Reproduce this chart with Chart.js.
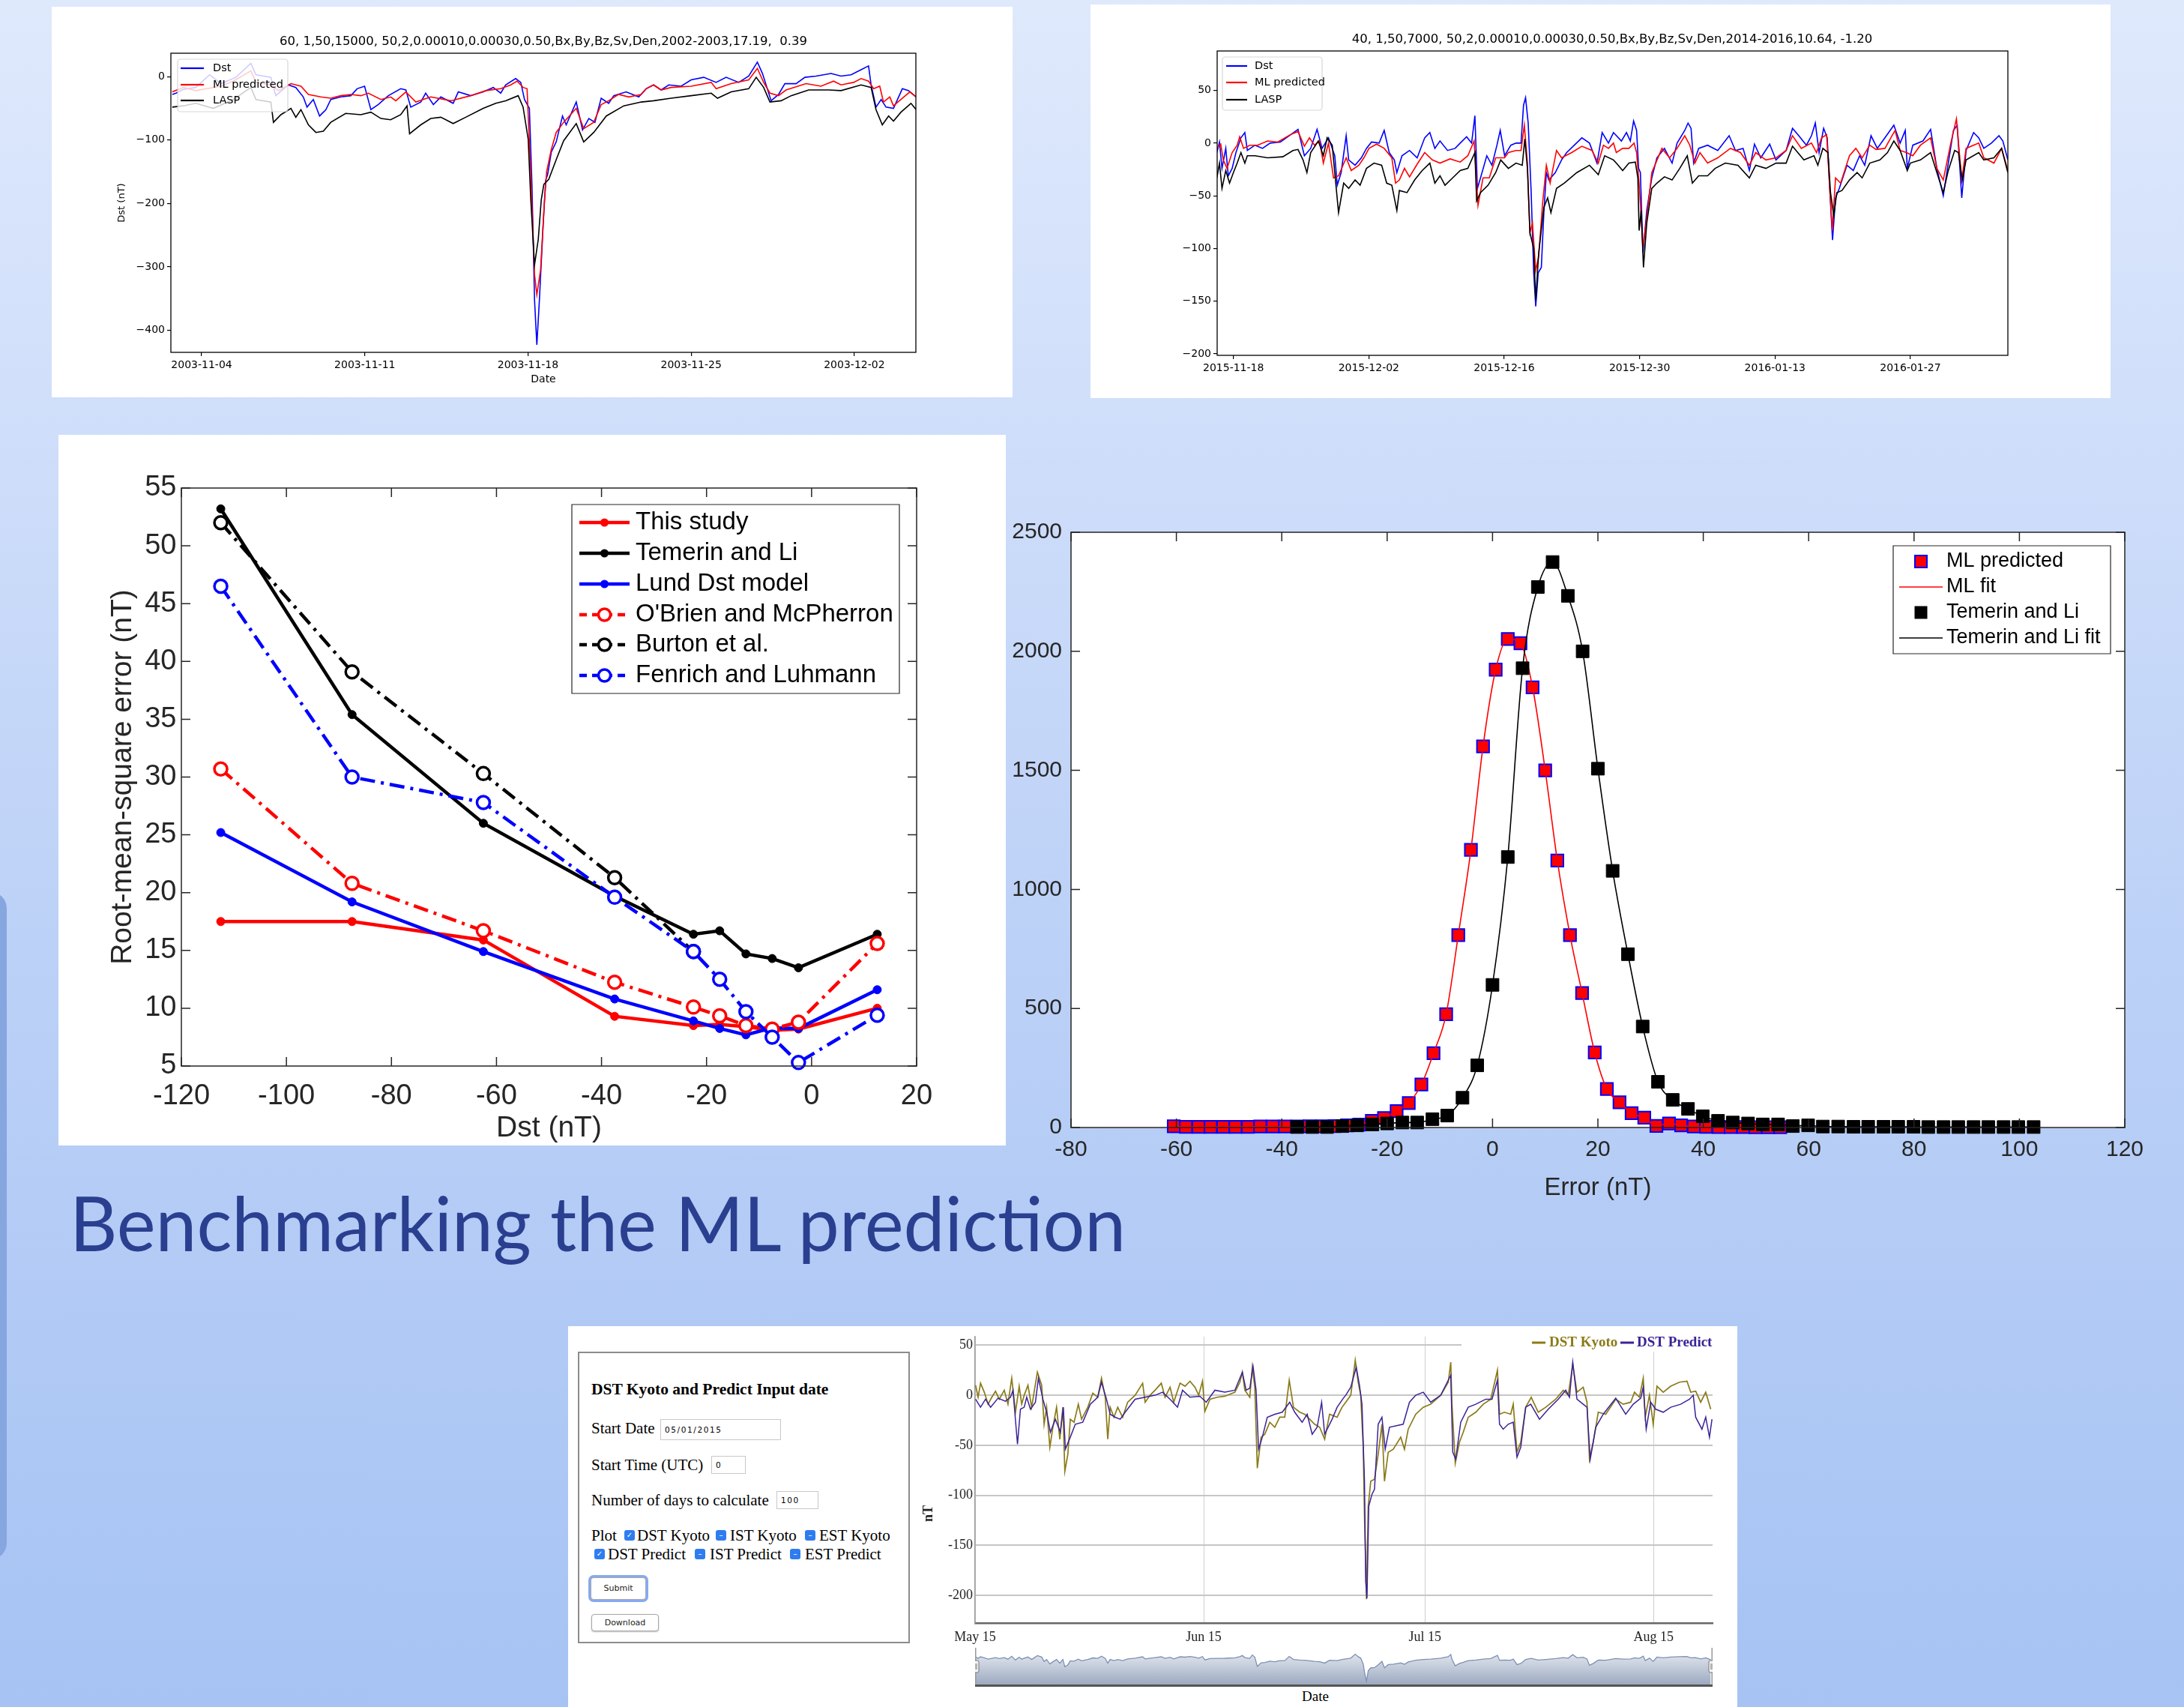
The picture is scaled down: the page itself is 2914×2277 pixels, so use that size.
<!DOCTYPE html>
<html>
<head>
<meta charset="utf-8">
<script src="https://cdn.jsdelivr.net/npm/chart.js@4.4.1/dist/chart.umd.min.js"></script>
<style>
html, body { margin: 0; padding: 0; }
body { width: 2914px; height: 2277px; position: relative; overflow: hidden;
  background: linear-gradient(#dfe9fc, #bcd1f7 55%, #a6c3f3); font-family: "Liberation Sans", Arial, sans-serif; }
.panel { position: absolute; background: #fff; }
canvas { position: absolute; }
#slideTitle { position: absolute; left: 93px; top: 1580px; font-family: Lato, "Open Sans", sans-serif; font-size: 100px;
  line-height: 1; color: #2a3f8f; white-space: nowrap; transform-origin: 0 0; }
#edge { position: absolute; left: -34px; top: 1190px; width: 43px; height: 890px; border-radius: 34px; background: #86a6e0; }
#form { position: absolute; left: 771px; top: 1803px; width: 439px; height: 385px; border: 2px solid #8c8c8c;
  background: #fff; font-family: "Liberation Serif", serif; color: #000; }
#form .t { position: absolute; white-space: nowrap; font-size: 21px; line-height: 24px; }
#form .inp { position: absolute; border: 1px solid #c8c8c8; background: #fff; font-family: "DejaVu Sans", sans-serif;
  font-size: 10.5px; padding-left: 5px; box-sizing: border-box; letter-spacing: 1.6px; }
.cb { position: absolute; width: 14px; height: 14px; border-radius: 3px; background: #2f7cf0; color: #fff;
  font-family: "DejaVu Sans", sans-serif; font-size: 10px; line-height: 14px; text-align: center; }
.btn { position: absolute; background: #fff; border: 1px solid #a8a8a8; border-radius: 4px; font-family: "DejaVu Sans", sans-serif;
  font-size: 11px; text-align: center; box-sizing: border-box; color: #222; }
#dateLbl { position: absolute; left: 1725px; top: 2252px; width: 60px; text-align: center; font-family: "Liberation Serif", serif;
  font-size: 19px; line-height: 22px; }
</style>
</head>
<body>
<div id="edge"></div>

<div class="panel" style="left:69px;top:9px;width:1282px;height:521px"></div>
<canvas id="cA" width="1282" height="521" style="left:69px;top:9px"></canvas>

<div class="panel" style="left:1455px;top:6px;width:1361px;height:525px"></div>
<canvas id="cB" width="1361" height="525" style="left:1455px;top:6px"></canvas>

<div class="panel" style="left:78px;top:580px;width:1264px;height:948px"></div>
<canvas id="cC" width="1264" height="948" style="left:78px;top:580px"></canvas>

<canvas id="cD" width="1576" height="960" style="left:1338px;top:680px"></canvas>

<div id="slideTitle">Benchmarking the ML prediction</div>

<div class="panel" style="left:758px;top:1769px;width:1560px;height:508px"></div>
<div id="form">
  <div class="t" style="left:16px;top:36px;font-weight:bold;font-size:21.5px">DST Kyoto and Predict Input date</div>
  <div class="t" style="left:16px;top:88px">Start Date</div>
  <div class="inp" style="left:108px;top:88px;width:161px;height:28px;line-height:26px">05/01/2015</div>
  <div class="t" style="left:16px;top:137px">Start Time (UTC)</div>
  <div class="inp" style="left:176px;top:137px;width:46px;height:24px;line-height:22px">0</div>
  <div class="t" style="left:16px;top:184px">Number of days to calculate</div>
  <div class="inp" style="left:263px;top:184px;width:56px;height:24px;line-height:22px">100</div>
  <div class="t" style="left:16px;top:231px">Plot</div>
  <span class="cb" style="left:60px;top:236px">✓</span><div class="t" style="left:77px;top:231px">DST Kyoto</div>
  <span class="cb" style="left:182px;top:236px">–</span><div class="t" style="left:201px;top:231px">IST Kyoto</div>
  <span class="cb" style="left:301px;top:236px">–</span><div class="t" style="left:320px;top:231px">EST Kyoto</div>
  <span class="cb" style="left:20px;top:261px">✓</span><div class="t" style="left:38px;top:256px">DST Predict</div>
  <span class="cb" style="left:154px;top:261px">–</span><div class="t" style="left:174px;top:256px">IST Predict</div>
  <span class="cb" style="left:281px;top:261px">–</span><div class="t" style="left:301px;top:256px">EST Predict</div>
  <div class="btn" style="left:15px;top:299px;width:74px;height:30px;line-height:28px;box-shadow:0 0 0 3px #86aaf0">Submit</div>
  <div class="btn" style="left:16px;top:348px;width:90px;height:23px;line-height:21px;box-shadow:0 1px 2px #bbb">Download</div>
</div>
<canvas id="cE" width="1100" height="440" style="left:1215px;top:1769px"></canvas>
<canvas id="cN" width="984" height="52" style="left:1301px;top:2198px"></canvas>
<div id="dateLbl">Date</div>

<script>
// ---------- Dst storm Nov 2003 (days from 2003-11-04) ----------
const tick1Days = [0, 7, 14, 21, 28];
const tick1Labels = ['2003-11-04', '2003-11-11', '2003-11-18', '2003-11-25', '2003-12-02'];
const y1Ticks = [-400, -300, -200, -100, 0];
const dst1T = [-1.26,-1.10,-0.78,-0.25,0.34,0.83,1.47,2.11,2.33,2.97,3.18,3.72,4.04,4.36,4.52,4.79,5.06,5.33,5.54,5.97,6.40,6.67,6.99,7.26,7.58,8.01,8.54,8.76,8.97,9.40,9.61,9.94,10.26,10.79,11.01,11.54,12.08,12.51,12.83,13.04,13.47,13.69,13.85,14.06,14.17,14.28,14.38,14.49,14.65,14.76,14.84,15.00,15.21,15.48,15.64,16.07,16.34,16.61,16.87,17.14,17.46,17.68,18.21,18.75,19.07,19.39,19.71,20.04,20.57,21.00,21.54,22.07,22.50,23.04,23.47,23.84,24.06,24.43,24.75,25.02,25.50,25.88,26.36,27.00,27.43,27.86,28.29,28.61,28.72,28.93,29.15,29.36,29.68,30.06,30.33,30.65];
const dst1V = [-28,-26,-20,-17,3,-11,-1,21,3,-1,-30,-13,-17,-32,-48,-36,-62,-52,-36,-32,-30,-19,-15,-52,-44,-30,-19,-21,-48,-40,-26,-44,-32,-42,-24,-30,-24,-17,-26,-13,-3,-9,-36,-50,-170,-352,-423,-352,-234,-163,-155,-119,-103,-62,-76,-40,-84,-66,-72,-34,-42,-30,-24,-32,-19,-13,-21,-13,-15,-5,-1,-9,-1,-9,1,23,5,-38,-28,-11,-11,-1,1,5,1,3,11,17,-13,-48,-36,-48,-50,-19,-22,-32];
const ml1T = [-1.26,-0.78,-0.25,0.83,1.36,2.11,2.33,2.97,3.29,3.83,4.26,4.58,5.11,5.54,5.97,6.40,6.83,7.15,7.69,8.11,8.33,8.76,9.19,9.83,10.69,11.54,12.19,12.83,13.26,13.53,13.79,13.96,14.12,14.28,14.38,14.54,14.70,14.80,15.00,15.21,15.53,16.07,16.39,16.82,17.14,17.46,17.89,18.32,18.86,19.07,19.39,19.71,20.14,21.00,21.86,22.07,22.72,23.47,23.84,24.11,24.38,24.75,25.07,25.93,26.57,27.11,27.43,27.97,28.29,28.61,28.83,29.09,29.25,29.52,29.68,30.00,30.38,30.65];
const ml1V = [-24,-17,-22,-15,-7,9,-9,-13,-22,-11,-15,-28,-32,-34,-30,-28,-30,-26,-36,-32,-38,-24,-40,-32,-38,-30,-22,-19,-13,-7,-17,-19,-155,-312,-344,-305,-200,-150,-115,-88,-72,-50,-82,-72,-44,-38,-28,-32,-28,-19,-13,-21,-17,-15,-9,-19,-11,-5,13,-9,-26,-30,-21,-11,-15,-7,-13,-9,-3,-7,-19,-15,-40,-32,-46,-36,-24,-32];
const lasp1T = [-1.26,-0.78,-0.25,0.50,1.36,2.11,2.33,2.97,3.08,3.40,3.83,4.04,4.26,4.58,4.90,5.22,5.54,6.18,6.83,7.26,7.69,8.11,8.54,8.81,8.92,9.40,9.83,10.26,10.79,11.33,12.08,12.62,13.04,13.58,13.79,14.01,14.12,14.28,14.44,14.57,14.68,14.89,15.21,15.53,16.07,16.39,16.82,17.36,18.11,18.86,19.39,20.14,21.00,21.86,22.13,22.72,23.47,23.79,24.11,24.38,24.86,25.29,26.04,26.90,27.43,28.29,28.72,28.93,29.20,29.47,29.68,30.00,30.43,30.65];
const lasp1V = [-48,-46,-42,-50,-36,-17,-36,-40,-72,-60,-50,-64,-52,-76,-88,-86,-72,-58,-60,-56,-66,-68,-60,-46,-90,-76,-66,-64,-74,-64,-50,-42,-38,-30,-48,-99,-194,-297,-257,-194,-170,-162,-131,-101,-74,-103,-88,-62,-46,-40,-38,-34,-30,-26,-34,-24,-19,-1,-17,-40,-38,-30,-21,-21,-22,-13,-17,-52,-76,-62,-70,-56,-42,-52];

// ---------- Dst Nov 2015 - Feb 2016 (days from 2015-11-18) ----------
const tick2Days = [0, 14, 28, 42, 56, 70];
const tick2Labels = ['2015-11-18', '2015-12-02', '2015-12-16', '2015-12-30', '2016-01-13', '2016-01-27'];
const y2Ticks = [-200, -150, -100, -50, 0, 50];
const dst2T = [-1.71,-1.44,-1.18,-0.79,-0.53,-0.13,0.26,0.78,1.18,1.44,2.23,3.01,3.80,4.85,5.63,6.68,7.34,7.99,8.65,9.17,9.83,10.48,10.74,11.14,11.66,11.92,12.58,13.23,13.76,14.28,15.07,15.59,16.11,16.64,16.90,17.43,18.21,19.00,19.78,20.31,20.83,21.36,22.14,22.93,23.45,24.11,24.63,24.97,25.23,25.55,26.20,26.73,27.25,27.59,28.04,28.69,29.22,29.74,30.00,30.21,30.48,30.79,31.05,31.26,31.52,31.84,32.10,32.36,32.62,33.28,33.93,34.46,35.25,36.03,36.82,37.60,38.13,38.78,39.30,
  40.12,40.64,41.04,41.38,41.69,41.90,42.08,42.35,42.74,43.26,43.79,44.57,45.36,45.88,46.67,47.01,47.32,47.59,48.11,49.03,50.08,51.26,51.91,52.70,53.35,53.88,54.53,55.45,56.10,57.15,57.81,58.46,59.25,59.77,60.17,60.56,61.03,61.40,61.66,61.95,62.26,62.65,63.44,64.10,64.75,65.28,65.93,66.58,67.37,68.29,68.94,69.47,69.68,70.25,71.30,72.09,72.74,73.40,73.92,74.45,74.84,75.31,75.76,76.54,77.07,77.59,78.38,79.16,79.56,80.08];
const dst2V = [-9,1,-24,-5,-31,-24,-9,5,10,-7,-2,-5,0,1,6,13,-12,-5,13,-5,5,-12,-40,-28,7,-16,-21,-14,-5,1,0,12,-9,-16,-28,-12,-7,-14,5,10,-5,2,-7,-5,0,6,0,26,-43,-33,-12,-21,-2,12,-12,-2,0,0,36,43,19,-47,-123,-155,-123,-118,-66,-28,-35,-28,-16,-9,-2,5,0,-19,10,0,10,
  2,10,2,21,12,-24,-28,-104,-64,-33,-14,-5,-19,0,12,19,14,-19,-5,-2,-7,7,-7,-5,-26,-1,-14,-1,-16,-7,14,7,-2,7,19,-9,14,5,-43,-92,-52,-43,-21,-26,-12,-21,7,-5,5,17,0,12,-24,-2,2,13,-24,-50,-19,12,17,-52,-7,10,5,-5,0,7,2,-16];
const ml2T = [-1.71,-1.31,-1.05,-0.66,-0.13,0.39,0.65,1.05,1.70,2.49,3.54,4.58,5.89,6.68,7.34,7.86,8.38,8.91,9.30,9.83,10.35,10.87,11.66,12.18,12.97,13.49,14.02,14.80,15.59,16.38,16.77,17.16,17.69,18.21,19.00,19.78,20.57,21.36,22.40,23.45,24.24,24.89,25.29,25.81,26.46,27.12,28.04,28.43,29.22,29.74,30.08,30.40,30.66,30.92,31.26,31.57,31.97,32.36,32.75,33.41,33.93,34.98,36.03,37.08,37.73,38.26,38.78,39.30,
  39.59,40.25,40.90,41.43,41.69,42.00,42.35,42.74,43.26,44.31,45.10,45.88,46.67,47.19,47.72,48.24,49.03,50.08,51.39,52.43,53.35,54.01,55.06,56.10,57.15,57.81,58.72,59.77,60.30,60.82,61.34,61.66,61.92,62.26,62.79,63.70,64.36,65.01,65.80,66.45,67.37,68.16,68.42,68.94,69.60,70.25,71.04,72.09,72.74,73.40,74.18,74.76,75.31,75.76,77.07,77.59,78.64,79.43,80.08];
const ml2V = [-5,-1,-16,-24,-9,-2,6,-5,-2,-2,2,1,8,11,-3,5,-2,2,-19,0,-33,-31,-14,-26,-21,-14,-5,-1,-5,-14,-38,-35,-24,-32,-20,-9,-16,-19,-15,-18,-12,2,-59,-33,-33,-14,-14,-9,-7,-7,17,-19,-85,-76,-121,-107,-57,-21,-38,-7,-14,-9,-3,-7,-19,-2,-5,0,
  -9,-5,-5,0,-9,-45,-99,-71,-28,-5,-14,-5,7,-2,-19,-9,-19,-14,-5,-9,-21,-9,-16,-14,-7,7,-5,0,-9,5,8,-43,-83,-33,-38,-12,-5,-14,-2,-6,-5,8,12,-7,-9,-12,-2,5,-24,-35,0,23,-35,-5,0,-14,-19,-5,-26];
const lasp2T = [-1.71,-1.44,-1.18,-0.79,-0.40,0.00,0.39,0.78,1.18,1.44,2.23,3.54,5.11,6.16,6.68,7.20,7.60,7.99,8.78,9.30,9.69,10.22,10.48,10.87,11.40,11.92,12.58,13.10,13.76,14.54,15.33,15.85,16.38,16.90,17.16,17.95,18.74,19.52,20.31,20.83,21.36,21.88,22.67,23.45,24.24,24.97,25.15,25.55,26.33,27.12,27.64,28.43,29.22,29.87,30.13,30.40,30.66,31.05,31.26,31.57,32.10,32.49,32.83,33.41,34.20,35.51,36.82,37.73,38.39,39.30,
  39.59,40.25,40.90,41.56,41.82,41.95,42.16,42.40,42.74,43.26,43.79,44.57,45.36,46.15,46.93,47.46,48.11,49.03,49.81,50.86,52.17,53.35,54.01,55.06,56.10,57.15,57.81,58.99,60.03,60.43,60.95,61.48,61.74,62.08,62.39,62.92,63.70,64.49,65.01,65.80,66.85,67.63,68.29,68.94,69.68,69.99,71.04,72.09,72.74,73.40,73.92,74.58,74.97,75.36,75.76,77.07,77.59,78.64,79.43,80.08];
const lasp2V = [-33,-19,-43,-26,-38,-28,-19,-9,-19,-12,-12,-14,-13,-7,-6,-16,-28,-9,2,-12,5,-2,-28,-66,-38,-43,-35,-40,-24,-19,-21,-38,-40,-64,-45,-47,-35,-26,-19,-38,-31,-40,-33,-26,-24,-9,-55,-47,-40,-28,-16,-24,-19,-21,4,-24,-85,-100,-149,-104,-61,-52,-66,-43,-38,-28,-21,-30,-12,-16,
  -19,-26,-19,-18,-33,-83,-64,-118,-76,-43,-38,-32,-35,-24,-12,-38,-31,-31,-24,-19,-21,-33,-21,-24,-19,-19,-3,-16,-12,-21,-5,-9,-47,-69,-47,-45,-35,-28,-33,-19,-16,-9,2,-7,-26,-19,-16,-9,-28,-47,-26,-7,-9,-35,-16,-9,-16,-14,-5,-28];

// ---------- RMSE vs Dst bin ----------
const dstBins = [-112.5, -87.5, -62.5, -37.5, -22.5, -17.5, -12.5, -7.5, -2.5, 12.5];
const rmseThisStudy = [17.5, 17.5, 15.9, 9.3, 8.5, 8.6, 8.4, 8.1, 8.2, 10.0];
const rmseTemerin = [53.2, 35.4, 26.0, 19.7, 16.4, 16.7, 14.7, 14.3, 13.5, 16.4];
const rmseLund = [25.2, 19.2, 14.9, 10.8, 8.9, 8.25, 7.7, 8.3, 8.25, 11.6];
const rmseOBrien = [30.7, 20.8, 16.7, 12.25, 10.1, 9.35, 8.5, 8.2, 8.8, 15.6];
const rmseBurton = [52.0, 39.1, 30.3, 21.3, 14.9];
const rmseFenrich = [46.5, 30.0, 27.8, 19.6, 14.9, 12.5, 9.7, 7.5, 5.3, 9.4];
const modelNames = ['This study', 'Temerin and Li', 'Lund Dst model', "O'Brien and McPherron", 'Burton et al.', 'Fenrich and Luhmann'];

// ---------- Error histograms ----------
const mlErrBins = [-60.5,-58.2,-55.8,-53.5,-51.1,-48.8,-46.4,-44.1,-41.7,-39.4,-37.0,-34.7,-32.3,-30.0,-27.6,-25.3,-22.9,-20.6,-18.2,-15.9,-13.5,-11.2,-8.8,-6.5,-4.1,-1.8,0.6,2.9,5.3,7.6,10.0,12.3,14.7,17.0,19.4,21.7,24.1,26.4,28.8,31.1,33.5,35.8,38.2,40.5,42.9,45.2,47.6,49.9,52.3,54.6];
const mlCounts = [5,3,3,3,3,3,3,4,4,4,4,5,5,6,9,12,28,40,69,103,181,312,476,808,1166,1601,1923,2052,2034,1849,1500,1121,808,565,315,162,106,60,41,7,17,9,4,3,2,2,2,1,1,1];
const tlErrBins = [-37.1,-34.2,-31.4,-28.5,-25.7,-22.8,-20.0,-17.1,-14.3,-11.4,-8.6,-5.7,-2.9,0.0,2.9,5.7,8.6,11.4,14.3,17.1,20.0,22.8,25.7,28.5,31.4,34.2,37.1,39.9,42.8,45.6,48.5,51.3,54.2,57.0,59.9,62.7,65.6,68.5,71.3,74.2,77.0,79.9,82.7,85.6,88.4,91.3,94.1,97.0,99.8,102.7];
const tlCounts = [2,2,2,6,9,13,17,21,21,35,50,125,261,599,1136,1929,2270,2375,2233,2000,1507,1078,728,424,192,116,78,47,28,21,17,13,13,6,9,4,4,3,3,3,3,3,2,2,2,2,2,2,2,2];
const histNames = ['ML predicted', 'ML fit', 'Temerin and Li', 'Temerin and Li fit'];

// ---------- DST Kyoto / Predict (days from May 15, 2015) ----------
const tickEDays = [0, 31, 61, 92];
const tickELabels = ['May 15', 'Jun 15', 'Jul 15', 'Aug 15'];
const yETicks = [-200, -150, -100, -50, 0, 50];
const kyotoT = [0.07,0.41,0.74,1.25,1.76,2.27,2.77,3.28,3.96,4.46,4.97,5.48,5.98,6.32,6.66,7.17,7.67,8.45,9.03,9.36,9.70,10.14,10.55,11.05,11.49,11.90,12.17,12.58,12.91,13.42,14.00,14.44,15.28,15.96,16.63,17.14,17.65,17.99,18.32,18.83,19.34,20.01,20.69,21.70,22.72,23.06,23.73,24.41,25.25,25.76,26.44,26.94,27.79,28.47,29.14,29.82,30.32,30.83,31.17,31.85,32.86,33.87,35.23,35.90,36.24,36.58,37.25,37.59,37.93,38.27,38.78,39.28,39.96,40.64,41.31,41.99,42.60,43.17,44.02,44.69,45.37,46.04,46.72,47.40,48.07,49.09,49.76,
  50.26,50.94,51.55,51.95,52.29,52.63,52.80,53.07,53.31,53.65,54.16,54.66,55.17,55.51,56.02,56.70,57.72,58.22,58.73,59.75,60.77,61.78,63.14,64.16,64.50,64.66,65.11,65.68,66.19,66.87,67.89,68.90,69.92,70.83,71.11,71.78,72.63,72.97,73.48,73.99,74.66,75.41,76.36,77.38,78.73,79.75,80.43,81.04,81.61,82.46,82.97,83.31,83.82,84.50,85.51,86.87,87.88,88.90,89.41,90.09,90.60,90.87,91.44,91.95,92.46,93.31,94.33,95.51,96.53,97.04,97.71,98.39,99.07,99.75];
const kyotoV = [10,-2,12,3,-9,-2,4,-4,5,-9,17,-17,9,-9,0,10,-12,23,10,-29,-12,-52,-32,-12,-44,-12,-76,-59,-24,-27,-9,-24,-12,2,-2,17,-2,-44,-12,-22,-12,-22,-7,0,12,-7,0,5,12,-2,8,-7,12,9,14,8,0,14,-16,-4,-2,-1,3,13,23,5,-2,28,8,-73,-42,-39,-27,-32,-22,-22,15,-12,-17,-19,-24,-29,-32,-44,-19,-22,-12,
  -7,0,35,13,0,-52,-121,-204,-111,-86,-84,-59,-29,-86,-57,-54,-42,-54,-34,-19,-12,-9,0,13,33,-9,-68,-47,-37,-22,-17,-9,-4,25,-19,-17,-19,-9,-57,-47,-12,-2,-17,-12,-4,5,0,31,3,8,-7,-64,-47,-17,-19,-4,-9,-7,3,-2,17,-22,0,-29,9,3,9,13,14,3,4,-7,3,-14];
const predT = [0.07,0.74,1.42,2.10,3.11,4.12,4.80,5.14,5.75,6.15,6.66,7.00,7.51,8.18,8.59,9.20,9.70,10.21,10.89,11.56,11.97,12.24,12.91,13.59,14.60,15.62,16.63,17.14,17.82,18.32,19.00,19.68,20.35,21.70,23.06,24.41,25.42,26.44,27.45,28.13,29.14,30.49,31.34,32.52,33.87,35.23,36.24,36.75,37.25,37.69,38.10,38.44,38.95,39.62,40.64,41.65,42.66,43.34,44.35,45.03,45.71,46.38,46.99,47.40,48.41,49.09,49.93,
  50.26,50.94,51.68,52.12,52.46,52.80,52.97,53.14,53.38,53.82,54.16,54.66,55.17,55.61,56.19,58.05,58.90,59.75,60.77,61.78,63.14,64.50,64.77,65.17,65.85,66.87,67.89,69.24,70.09,70.83,71.11,71.61,72.29,72.97,73.48,73.99,74.66,75.34,76.53,77.72,79.07,80.09,80.60,81.04,81.61,82.46,82.97,83.41,84.16,85.17,86.87,88.22,89.24,90.26,90.60,91.00,91.61,92.29,93.31,94.33,95.68,96.87,97.38,97.71,98.56,99.07,99.58,99.92];
const predV = [-4,-12,-4,-12,-3,-6,-2,5,-49,-14,-12,-2,-14,-7,17,-4,-17,-37,-24,-37,-12,-54,-42,-29,-27,-9,-2,13,-4,-19,-22,-24,-17,-4,-2,0,3,-4,-12,5,-2,-1,-7,5,3,5,23,5,7,29,5,-54,-42,-22,-19,-17,-7,-17,-27,-19,-39,-32,-7,-39,-24,-12,-3,
  0,8,28,10,-9,-86,-186,-203,-111,-99,-94,-29,-22,-54,-32,-29,-7,0,3,-7,0,20,-57,-64,-27,-12,-9,-4,-4,15,-29,-34,-29,-27,-62,-52,-12,-9,-24,-14,-4,5,-2,33,-4,-9,-12,-64,-32,-19,-3,-19,-9,-3,8,-34,-7,-14,-17,-12,-9,-4,0,-22,-34,-22,-42,-24];

// ---------- helpers ----------
const pts = (xs, ys) => xs.map((x, i) => ({x: x, y: ys[i]}));
const fixH = h => s => { s.height = h; };
const fixW = w => s => { s.width = w; };
const setTicks = list => s => { s.ticks = list.map(v => ({value: v})); };
const uminus = v => String(v).replace('-', '\u2212');
const base = { responsive: false, animation: false, devicePixelRatio: 1, events: [],
  plugins: { legend: { display: false }, tooltip: { enabled: false } } };

// extra drawing per canvas: frame, inward ticks, legends, titles
const deco = {};
function drawLegend(ctx, L) {
  ctx.save();
  const b = L.box;
  ctx.beginPath();
  if (L.radius) ctx.roundRect(b[0], b[1], b[2], b[3], L.radius); else ctx.rect(b[0], b[1], b[2], b[3]);
  ctx.fillStyle = L.bg; ctx.fill();
  if (L.border) { ctx.lineWidth = L.borderWidth || 1; ctx.strokeStyle = L.border; ctx.stroke(); }
  ctx.font = L.font; ctx.textBaseline = 'middle'; ctx.textAlign = 'left';
  L.items.forEach((it, i) => {
    const y = L.rows[i], x0 = it.x0 !== undefined ? it.x0 : L.x0, x1 = it.x1 !== undefined ? it.x1 : L.x1;
    if (it.line) {
      ctx.beginPath(); ctx.setLineDash(it.line.dash || []);
      ctx.strokeStyle = it.line.color; ctx.lineWidth = it.line.width;
      ctx.moveTo(x0, y); ctx.lineTo(x1, y); ctx.stroke(); ctx.setLineDash([]);
    }
    if (it.marker) {
      const m = it.marker, mx = (x0 + x1) / 2;
      ctx.beginPath();
      if (m.style === 'rect') ctx.rect(mx - m.s / 2, y - m.s / 2, m.s, m.s); else ctx.arc(mx, y, m.r, 0, Math.PI * 2);
      if (m.fill) { ctx.fillStyle = m.fill; ctx.fill(); }
      if (m.stroke) { ctx.strokeStyle = m.stroke; ctx.lineWidth = m.lw || 1; ctx.stroke(); }
    }
    ctx.fillStyle = it.textColor || L.color || '#000';
    ctx.fillText(it.label, it.tx !== undefined ? it.tx : L.tx, y);
  });
  ctx.restore();
}
Chart.register({
  id: 'decoDraw',
  beforeDatasetsDraw(chart) {
    const d = deco[chart.canvas.id]; if (!d || !d.plotBg) return;
    const a = chart.chartArea, c = chart.ctx;
    c.save(); c.fillStyle = d.plotBg; c.fillRect(a.left, a.top, a.right - a.left, a.bottom - a.top); c.restore();
  },
  afterDraw(chart) {
    const d = deco[chart.canvas.id]; if (!d) return;
    const c = chart.ctx, a = chart.chartArea;
    if (d.frame) {
      c.save();
      c.strokeStyle = d.frame.color; c.lineWidth = d.frame.width;
      c.strokeRect(a.left, a.top, a.right - a.left, a.bottom - a.top);
      if (d.frame.inTick) {
        const L = d.frame.inTick, xs = chart.scales.x, ys = chart.scales.y;
        c.beginPath();
        xs.ticks.forEach(t => { const p = xs.getPixelForValue(t.value);
          c.moveTo(p, a.bottom); c.lineTo(p, a.bottom - L); c.moveTo(p, a.top); c.lineTo(p, a.top + L); });
        ys.ticks.forEach(t => { const p = ys.getPixelForValue(t.value);
          c.moveTo(a.left, p); c.lineTo(a.left + L, p); c.moveTo(a.right, p); c.lineTo(a.right - L, p); });
        c.stroke();
      }
      c.restore();
    }
    if (d.legend) drawLegend(c, d.legend);
    (d.texts || []).forEach(t => {
      c.save(); c.translate(t.x, t.y); if (t.rot) c.rotate(t.rot);
      c.font = t.font; c.fillStyle = t.color || '#000'; c.textAlign = 'center'; c.textBaseline = 'middle';
      c.fillText(t.text, 0, 0); c.restore();
    });
    if (d.extra) d.extra(c, a);
  }
});

// ---------- panels A and B (matplotlib style) ----------
const mplFont = { family: 'DejaVu Sans', size: 14 };
function mplAxes(xMin, xMax, xt, xl, yMin, yMax, yt, yW, xH, xTitle, yTitle) {
  return {
    x: { type: 'linear', min: xMin, max: xMax, afterBuildTicks: setTicks(xt), afterFit: fixH(xH),
      ticks: { autoSkip: false, maxRotation: 0, color: '#000', font: mplFont, padding: 4, callback: (v, i) => xl[i] },
      grid: { drawOnChartArea: false, drawTicks: true, tickLength: 5, color: '#000', tickColor: '#000', lineWidth: 1.2 },
      border: { display: false },
      title: { display: !!xTitle, text: xTitle, color: '#000', font: { family: 'DejaVu Sans', size: 14, lineHeight: 1.2 }, padding: 0 } },
    y: { type: 'linear', min: yMin, max: yMax, afterBuildTicks: setTicks(yt), afterFit: fixW(yW),
      ticks: { color: '#000', font: mplFont, padding: 3, callback: uminus },
      grid: { drawOnChartArea: false, drawTicks: true, tickLength: 5, color: '#000', tickColor: '#000', lineWidth: 1.2 },
      border: { display: false },
      title: { display: !!yTitle, text: yTitle, color: '#000', font: { family: 'DejaVu Sans', size: 13, lineHeight: 1.2 }, padding: 0 } }
  };
}
function mplSets(d, m, l) {
  return [
    { label: 'LASP', data: l, borderColor: '#000000', borderWidth: 1.6, pointRadius: 0, order: 0 },
    { label: 'ML predicted', data: m, borderColor: '#ff0000', borderWidth: 1.6, pointRadius: 0, order: 1 },
    { label: 'Dst', data: d, borderColor: '#0000ff', borderWidth: 1.6, pointRadius: 0, order: 2 }
  ];
}
function mplLegend(box, rows, x0, x1, tx) {
  return { box: box, radius: 4, bg: 'rgba(255,255,255,0.8)', border: 'rgba(204,204,204,0.8)', borderWidth: 1.2,
    font: '14.5px "DejaVu Sans"', rows: rows, x0: x0, x1: x1, tx: tx,
    items: [ { label: 'Dst', line: { color: '#0000ff', width: 2.2 } },
             { label: 'ML predicted', line: { color: '#ff0000', width: 2.2 } },
             { label: 'LASP', line: { color: '#000', width: 2.2 } } ] };
}

deco.cA = { frame: { color: '#000', width: 1.3 },
  legend: mplLegend([168, 70, 147, 70], [82, 104, 125], 172, 203, 215),
  texts: [{ text: '60, 1,50,15000, 50,2,0.00010,0.00030,0.50,Bx,By,Bz,Sv,Den,2002-2003,17.19,  0.39', x: 656, y: 47, font: '16.5px "DejaVu Sans"' }] };
new Chart(document.getElementById('cA'), {
  type: 'line',
  data: { datasets: mplSets(pts(dst1T, dst1V), pts(ml1T, ml1V), pts(lasp1T, lasp1V)) },
  options: Object.assign({}, base, {
    layout: { autoPadding: false, padding: { left: 86, right: 129, top: 62, bottom: 15 } },
    scales: mplAxes(-1.32, 30.64, tick1Days, tick1Labels, -435, 37, y1Ticks, 73, 45, 'Date', 'Dst (nT)')
  })
});

deco.cB = { frame: { color: '#000', width: 1.3 },
  legend: mplLegend([176, 70, 133, 71], [82, 104, 127], 181, 209, 219),
  texts: [{ text: '40, 1,50,7000, 50,2,0.00010,0.00030,0.50,Bx,By,Bz,Sv,Den,2014-2016,10.64, -1.20', x: 696, y: 47, font: '16.5px "DejaVu Sans"' }] };
new Chart(document.getElementById('cB'), {
  type: 'line',
  data: { datasets: mplSets(pts(dst2T, dst2V), pts(ml2T, ml2V), pts(lasp2T, lasp2V)) },
  options: Object.assign({}, base, {
    layout: { autoPadding: false, padding: { left: 40, right: 137, top: 62, bottom: 10 } },
    scales: mplAxes(-1.68, 80.08, tick2Days, tick2Labels, -201.4, 87.4, y2Ticks, 129, 47, '', '')
  })
});

// ---------- panel C: RMSE ----------
const dashDot = [20, 8, 4, 8];
function rmseSet(i, vals, color, dashed, order) {
  return { label: modelNames[i], data: pts(dstBins.slice(0, vals.length), vals), borderColor: color, borderWidth: 4.5,
    borderDash: dashed ? dashDot : [], pointStyle: 'circle', pointRadius: dashed ? 8.5 : 5.5,
    pointBackgroundColor: dashed ? '#ffffff' : color, pointBorderColor: color, pointBorderWidth: dashed ? 3.5 : 1,
    order: order, clip: false };
}
deco.cC = { frame: { color: '#262626', width: 1.5, inTick: 12 },
  legend: { box: [685, 93, 437, 252], bg: '#fff', border: '#262626', borderWidth: 1.2, font: '33px "Liberation Sans"',
    rows: [117, 158, 199, 240, 280, 321], x0: 695, x1: 762, tx: 770,
    items: [
      { label: modelNames[0], line: { color: '#ff0000', width: 4.5 }, marker: { r: 5.5, fill: '#ff0000' } },
      { label: modelNames[1], line: { color: '#000', width: 4.5 }, marker: { r: 5.5, fill: '#000' } },
      { label: modelNames[2], line: { color: '#0000ff', width: 4.5 }, marker: { r: 5.5, fill: '#0000ff' } },
      { label: modelNames[3], line: { color: '#ff0000', width: 4.5, dash: [10, 7] }, marker: { r: 8, fill: '#fff', stroke: '#ff0000', lw: 3.5 } },
      { label: modelNames[4], line: { color: '#000', width: 4.5, dash: [10, 7] }, marker: { r: 8, fill: '#fff', stroke: '#000', lw: 3.5 } },
      { label: modelNames[5], line: { color: '#0000ff', width: 4.5, dash: [10, 7] }, marker: { r: 8, fill: '#fff', stroke: '#0000ff', lw: 3.5 } }
    ] } };
const mlabFont = s => ({ family: 'Liberation Sans', size: s, lineHeight: 1.2 });
new Chart(document.getElementById('cC'), {
  type: 'line',
  data: { datasets: [
    rmseSet(0, rmseThisStudy, '#ff0000', false, 5),
    rmseSet(1, rmseTemerin, '#000000', false, 4),
    rmseSet(2, rmseLund, '#0000ff', false, 3),
    rmseSet(3, rmseOBrien, '#ff0000', true, 2),
    rmseSet(4, rmseBurton, '#000000', true, 1),
    rmseSet(5, rmseFenrich, '#0000ff', true, 0)
  ] },
  options: Object.assign({}, base, {
    layout: { autoPadding: false, padding: { left: 66.5, right: 119, top: 71, bottom: 3.5 } },
    scales: {
      x: { type: 'linear', min: -120, max: 20, ticks: { stepSize: 20, color: '#262626', font: mlabFont(38), padding: 17.5, maxRotation: 0, callback: v => String(v) },
        grid: { display: false, drawTicks: false }, border: { display: false }, afterFit: fixH(102.5),
        title: { display: true, text: 'Dst (nT)', color: '#262626', font: { family: 'Liberation Sans', size: 39, lineHeight: 1 }, padding: 0 } },
      y: { type: 'linear', min: 5, max: 55, ticks: { stepSize: 5, color: '#262626', font: mlabFont(38), padding: 6.5, callback: v => String(v) },
        grid: { display: false, drawTicks: false }, border: { display: false }, afterFit: fixW(97.5),
        title: { display: true, text: 'Root-mean-square error (nT)', color: '#262626', font: { family: 'Liberation Sans', size: 39, lineHeight: 1 }, padding: 0 } }
    }
  })
});

// ---------- panel D: error histogram ----------
deco.cD = { plotBg: '#fff', frame: { color: '#262626', width: 1.5, inTick: 12 },
  legend: { box: [1188, 48, 290, 144], bg: '#fff', border: '#262626', borderWidth: 1.2, font: '27px "Liberation Sans"',
    rows: [69, 103, 137, 171], x0: 1196, x1: 1254, tx: 1259,
    items: [
      { label: histNames[0], marker: { style: 'rect', s: 16, fill: '#ff0000', stroke: '#0000ff', lw: 2 } },
      { label: histNames[1], line: { color: '#ff0000', width: 1.5 } },
      { label: histNames[2], marker: { style: 'rect', s: 17, fill: '#000' } },
      { label: histNames[3], line: { color: '#000', width: 1.5 } }
    ] } };
new Chart(document.getElementById('cD'), {
  type: 'line',
  data: { datasets: [
    { label: histNames[3], data: pts(tlErrBins, tlCounts), borderColor: '#000', borderWidth: 1.6, pointRadius: 0, cubicInterpolationMode: 'monotone', order: 0 },
    { label: histNames[2], data: pts(tlErrBins, tlCounts), showLine: false, pointStyle: 'rect', pointRadius: 12,
      pointBackgroundColor: '#000', pointBorderColor: '#000', pointBorderWidth: 1, order: 1, clip: false },
    { label: histNames[1], data: pts(mlErrBins, mlCounts), borderColor: '#ff0000', borderWidth: 1.6, pointRadius: 0, cubicInterpolationMode: 'monotone', order: 2 },
    { label: histNames[0], data: pts(mlErrBins, mlCounts), showLine: false, pointStyle: 'rect', pointRadius: 11.5,
      pointBackgroundColor: '#ff0000', pointBorderColor: '#0000ff', pointBorderWidth: 2, order: 3, clip: false }
  ] },
  options: Object.assign({}, base, {
    layout: { autoPadding: false, padding: { left: 0, right: 79, top: 30, bottom: 38.5 } },
    scales: {
      x: { type: 'linear', min: -80, max: 120, ticks: { stepSize: 20, color: '#262626', font: mlabFont(30), padding: 12, maxRotation: 0, callback: v => String(v) },
        grid: { color: '#e4e4e4', lineWidth: 1, drawTicks: false }, border: { display: false }, afterFit: fixH(97.5),
        title: { display: true, text: 'Error (nT)', color: '#262626', font: { family: 'Liberation Sans', size: 33, lineHeight: 1 }, padding: 0 } },
      y: { type: 'linear', min: 0, max: 2500, ticks: { stepSize: 500, color: '#262626', font: mlabFont(30), padding: 12, callback: v => String(v) },
        grid: { color: '#e4e4e4', lineWidth: 1, drawTicks: false }, border: { display: false }, afterFit: fixW(91) }
    }
  })
});

// ---------- panel E: DST Kyoto vs Predict ----------
const kyotoColor = '#8b7a18', predColor = '#3b2298';
deco.cE = {
  legend: { box: [735, 0, 365, 34], bg: '#fff', font: 'bold 19px "Liberation Serif"', rows: [22, 22],
    items: [
      { label: 'DST Kyoto', textColor: kyotoColor, x0: 829, x1: 847, tx: 852, line: { color: kyotoColor, width: 3 } },
      { label: 'DST Predict', textColor: predColor, x0: 947, x1: 965, tx: 969, line: { color: predColor, width: 3 } }
    ] },
  texts: [{ text: 'nT', x: 24, y: 250, rot: -Math.PI / 2, font: 'bold 18px "Liberation Serif"', color: '#222' }] };
const serif = s => ({ family: 'Liberation Serif', size: s, lineHeight: 1.2 });
new Chart(document.getElementById('cE'), {
  type: 'line',
  data: { datasets: [
    { label: 'DST Predict', data: pts(predT, predV), borderColor: predColor, borderWidth: 1.5, pointRadius: 0, order: 0 },
    { label: 'DST Kyoto', data: pts(kyotoT, kyotoV), borderColor: kyotoColor, borderWidth: 1.7, pointRadius: 0, order: 1 }
  ] },
  options: Object.assign({}, base, {
    layout: { autoPadding: false, padding: { left: 15, right: 30, top: 11, bottom: 0 } },
    scales: {
      x: { type: 'linear', min: 0, max: 100, afterBuildTicks: setTicks(tickEDays), afterFit: fixH(44),
        ticks: { autoSkip: false, maxRotation: 0, color: '#222', font: serif(18), padding: 8, callback: (v, i) => tickELabels[i] },
        grid: { color: '#cfcfcf', lineWidth: 1, drawTicks: false }, border: { display: true, color: '#666', width: 2.5 } },
      y: { type: 'linear', min: -227.8, max: 58.7, afterBuildTicks: setTicks(yETicks), afterFit: fixW(71),
        ticks: { color: '#222', font: serif(18), padding: 3, callback: v => String(v) },
        grid: { color: '#c6c6c6', lineWidth: 2, drawTicks: false }, border: { display: true, color: '#999', width: 1.5 } }
    }
  })
});

// navigator strip under the bottom chart
deco.cN = { extra: (c, a) => {
  c.save();
  c.strokeStyle = '#9a9a9a'; c.lineWidth = 1.5;
  c.beginPath(); c.moveTo(0.75, 0); c.lineTo(0.75, a.bottom); c.moveTo(983.25, 0); c.lineTo(983.25, a.bottom); c.stroke();
  c.strokeStyle = '#555'; c.lineWidth = 3; c.beginPath(); c.moveTo(0, 50.5); c.lineTo(984, 50.5); c.stroke();
  [1, 983].forEach(x => {
    c.beginPath(); c.roundRect(x - 4, 17, 8, 16, 2); c.fillStyle = '#f2f2f2'; c.fill();
    c.strokeStyle = '#777'; c.lineWidth = 1; c.stroke();
    c.beginPath(); c.moveTo(x - 1, 21); c.lineTo(x - 1, 29); c.moveTo(x + 1, 21); c.lineTo(x + 1, 29); c.stroke();
  });
  c.restore();
} };
new Chart(document.getElementById('cN'), {
  type: 'line',
  data: { datasets: [
    { label: 'DST Kyoto', data: pts(kyotoT, kyotoV), borderColor: '#7d90b4', borderWidth: 1.3, pointRadius: 0, fill: 'start',
      backgroundColor: (ctx) => {
        const a = ctx.chart.chartArea; if (!a) return '#c8cfdc';
        const g = ctx.chart.ctx.createLinearGradient(0, a.top, 0, a.bottom);
        g.addColorStop(0, '#eef1f6'); g.addColorStop(1, '#97a5bd'); return g;
      } }
  ] },
  options: Object.assign({}, base, {
    layout: { autoPadding: false, padding: 0 },
    scales: { x: { type: 'linear', min: 0, max: 100, display: false }, y: { type: 'linear', min: -254, max: 92, display: false } }
  })
});

// fit slide title width to the original text width
const st = document.getElementById('slideTitle');
const w = st.getBoundingClientRect().width;
st.style.transform = 'scaleX(' + (1409 / w).toFixed(4) + ')';
</script>
</body>
</html>
